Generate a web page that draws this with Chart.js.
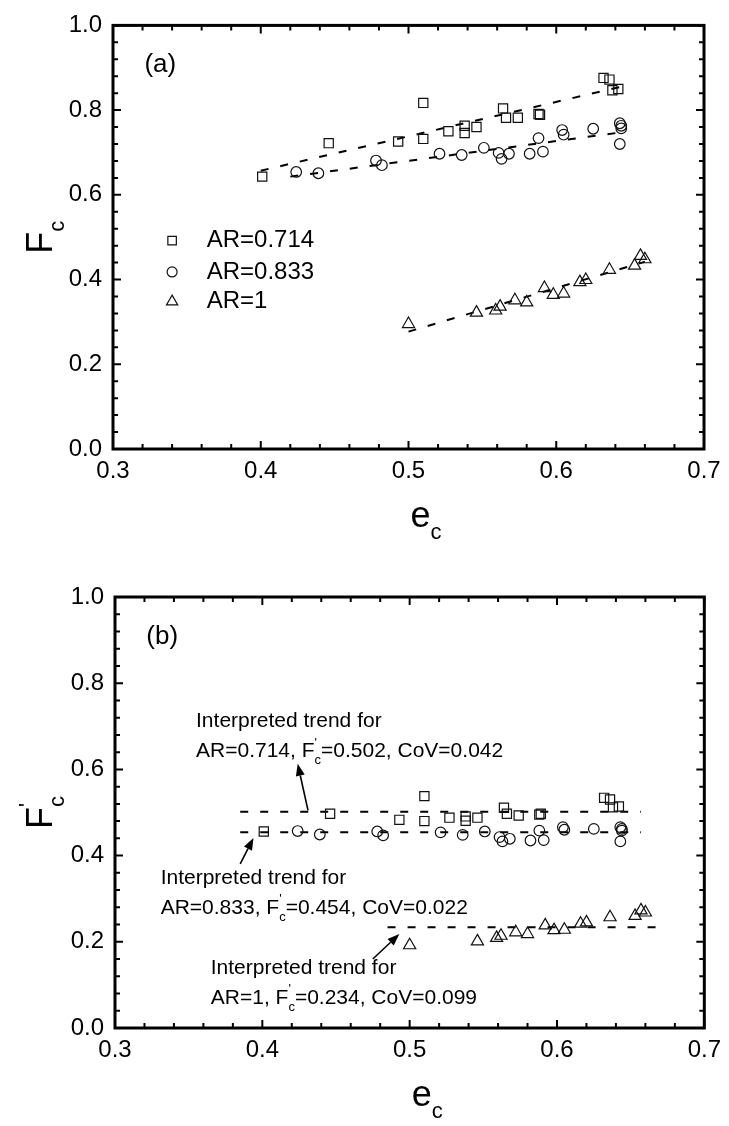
<!DOCTYPE html>
<html>
<head>
<meta charset="utf-8">
<script src="https://cdn.jsdelivr.net/npm/chart.js@4.4.1/dist/chart.umd.min.js"></script>
<style>
  html, body { margin: 0; padding: 0; background: #fff; }
  .panel { position: absolute; left: 0; width: 729px; height: 563px; }
</style>
</head>
<body>
<div class="panel" style="top:0"><canvas id="chartA" width="729" height="563"></canvas></div>
<div class="panel" style="top:563px"><canvas id="chartB" width="729" height="563"></canvas></div>
<script>
// ---- data ----
const eSquare = [0.401, 0.446, 0.493, 0.510, 0.510, 0.527, 0.538, 0.538, 0.546, 0.564, 0.566, 0.574, 0.588, 0.589, 0.632, 0.636, 0.638, 0.642];
const fcSquare = [0.643, 0.722, 0.726, 0.732, 0.817, 0.750, 0.746, 0.763, 0.760, 0.804, 0.782, 0.782, 0.791, 0.789, 0.876, 0.872, 0.847, 0.850];
const fcpSquare = [0.456, 0.497, 0.483, 0.480, 0.538, 0.488, 0.481, 0.491, 0.488, 0.511, 0.497, 0.493, 0.495, 0.497, 0.534, 0.530, 0.512, 0.514];

const eCircle = [0.424, 0.439, 0.478, 0.482, 0.521, 0.536, 0.551, 0.561, 0.563, 0.568, 0.582, 0.591, 0.588, 0.604, 0.605, 0.625, 0.643, 0.644, 0.644, 0.643];
const fcCircle = [0.654, 0.651, 0.681, 0.670, 0.697, 0.694, 0.711, 0.699, 0.685, 0.697, 0.697, 0.702, 0.734, 0.753, 0.742, 0.756, 0.769, 0.763, 0.757, 0.720];
const fcpCircle = [0.457, 0.449, 0.456, 0.447, 0.454, 0.448, 0.456, 0.443, 0.433, 0.439, 0.435, 0.436, 0.458, 0.466, 0.460, 0.462, 0.466, 0.462, 0.458, 0.433];

const eTriangle = [0.500, 0.546, 0.559, 0.562, 0.572, 0.580, 0.592, 0.598, 0.605, 0.616, 0.620, 0.636, 0.653, 0.657, 0.660];
const fcTriangle = [0.295, 0.322, 0.327, 0.336, 0.351, 0.346, 0.380, 0.364, 0.367, 0.394, 0.399, 0.423, 0.433, 0.456, 0.448];
const fcpTriangle = [0.192, 0.201, 0.209, 0.214, 0.222, 0.218, 0.238, 0.227, 0.228, 0.242, 0.245, 0.257, 0.260, 0.273, 0.268];

// fitted trend lines (end points)
const fitSquareA = [[0.400, 0.657], [0.645, 0.856]];
const fitCircleA = [[0.420, 0.643], [0.645, 0.748]];
const fitTriangleA = [[0.500, 0.277], [0.660, 0.442]];
const fitSquareB = [[0.385, 0.502], [0.657, 0.502]];
const fitCircleB = [[0.385, 0.454], [0.657, 0.454]];
const fitTriangleB = [[0.485, 0.234], [0.670, 0.234]];

const legendLabels = ["AR=0.714", "AR=0.833", "AR=1"];
const xTicks = [0.3, 0.4, 0.5, 0.6, 0.7];
const yTicks = [0.0, 0.2, 0.4, 0.6, 0.8, 1.0];

const FONT = '"Liberation Sans", Arial, Helvetica, sans-serif';
const INK = "#000";

function pts(xs, ys) { return xs.map((x, i) => ({ x, y: ys[i] })); }
function linePts(p) { return p.map(([x, y]) => ({ x, y })); }

function markerSet(data, style, r) {
  return {
    type: "scatter", data, pointStyle: style, pointRadius: r, pointHoverRadius: r,
    pointBorderColor: "#111", pointBackgroundColor: "transparent", pointBorderWidth: 1.2, order: 1,
  };
}
function fitSet(data) {
  return {
    type: "line", data, borderColor: INK, borderWidth: 2, borderDash: [8, 12],
    pointRadius: 0, fill: false, order: 2, tension: 0,
  };
}

// rich text: strings or {sup, sub} stacked scripts
function richWidth(ctx, parts, size) {
  let w = 0;
  parts.forEach(p => {
    if (typeof p === "string") { ctx.font = `${size}px ${FONT}`; w += ctx.measureText(p).width; }
    else {
      ctx.font = `${Math.round(size * 0.6)}px ${FONT}`;
      w += Math.max(p.sup ? ctx.measureText(p.sup).width : 0, p.sub ? ctx.measureText(p.sub).width : 0);
    }
  });
  return w;
}
function drawRich(ctx, parts, x, y, size) {
  let cx = x;
  ctx.textBaseline = "alphabetic";
  ctx.textAlign = "left";
  parts.forEach(p => {
    if (typeof p === "string") {
      ctx.font = `${size}px ${FONT}`;
      ctx.fillText(p, cx, y);
      cx += ctx.measureText(p).width;
    } else {
      ctx.font = `${Math.round(size * 0.6)}px ${FONT}`;
      let w = 0;
      if (p.sup) { ctx.fillText(p.sup, cx, y - size * 0.5); w = Math.max(w, ctx.measureText(p.sup).width); }
      if (p.sub) { ctx.fillText(p.sub, cx, y + size * 0.33); w = Math.max(w, ctx.measureText(p.sub).width); }
      cx += w;
    }
  });
}

function marker(ctx, style, x, y, r) {
  ctx.beginPath();
  if (style === "rect") {
    const s = Math.SQRT1_2 * r;
    ctx.rect(x - s, y - s, 2 * s, 2 * s);
  } else if (style === "circle") {
    ctx.arc(x, y, r, 0, Math.PI * 2);
  } else {
    ctx.moveTo(x, y - r);
    ctx.lineTo(x + r * Math.sin(2 * Math.PI / 3), y + r / 2);
    ctx.lineTo(x - r * Math.sin(2 * Math.PI / 3), y + r / 2);
    ctx.closePath();
  }
  ctx.stroke();
}

function arrow(ctx, x0, y0, x1, y1) {
  const ang = Math.atan2(y1 - y0, x1 - x0);
  const len = 12, half = 4.5;
  const bx = x1 - Math.cos(ang) * len, by = y1 - Math.sin(ang) * len;
  ctx.beginPath();
  ctx.moveTo(x0, y0); ctx.lineTo(bx, by);
  ctx.lineWidth = 1.6; ctx.stroke();
  ctx.beginPath();
  ctx.moveTo(x1, y1);
  ctx.lineTo(bx + Math.sin(ang) * half, by - Math.cos(ang) * half);
  ctx.lineTo(bx - Math.sin(ang) * half, by + Math.cos(ang) * half);
  ctx.closePath(); ctx.fill();
}

// frame, inward ticks, axis titles and annotations
const decorPlugin = {
  id: "decor",
  afterDraw(chart, args, opts) {
    const { ctx, chartArea: a, scales: { x, y } } = chart;
    ctx.save();
    ctx.strokeStyle = INK; ctx.fillStyle = INK;
    ctx.lineWidth = 2;
    ctx.beginPath();
    for (let i = 0; i <= 20; i++) {
      const px = x.getPixelForValue(0.3 + i * 0.02);
      const len = i % 5 === 0 ? 8 : 5;
      ctx.moveTo(px, a.bottom); ctx.lineTo(px, a.bottom - len);
      ctx.moveTo(px, a.top); ctx.lineTo(px, a.top + len);
    }
    for (let i = 0; i <= 25; i++) {
      const py = y.getPixelForValue(i * 0.04);
      const len = i % 5 === 0 ? 8 : 5;
      ctx.moveTo(a.left, py); ctx.lineTo(a.left + len, py);
      ctx.moveTo(a.right, py); ctx.lineTo(a.right - len, py);
    }
    ctx.stroke();
    ctx.lineWidth = 3;
    ctx.strokeRect(a.left, a.top, a.right - a.left, a.bottom - a.top);

    // panel tag
    ctx.font = `26px ${FONT}`;
    ctx.textAlign = "center"; ctx.textBaseline = "middle";
    ctx.fillText(opts.tag, x.getPixelForValue(0.332), y.getPixelForValue(0.907));

    // x title
    const cx = (a.left + a.right) / 2;
    drawRich(ctx, ["e", { sub: "c" }], cx + 2, a.bottom + 78, 36);
    // y title, rotated
    ctx.save();
    ctx.translate(opts.yTitleX, (a.top + a.bottom) / 2);
    ctx.rotate(-Math.PI / 2);
    const w = richWidth(ctx, opts.yTitle, 36);
    drawRich(ctx, opts.yTitle, -w / 2, 12, 36);
    ctx.restore();

    if (opts.legend) {
      ctx.lineWidth = 1.2; ctx.strokeStyle = "#111";
      opts.legend.forEach((it, i) => {
        const mx = x.getPixelForValue(0.340), my = y.getPixelForValue(it.at);
        marker(ctx, it.style, mx, my, it.r);
        ctx.font = `24px ${FONT}`;
        ctx.textAlign = "left"; ctx.textBaseline = "middle";
        ctx.fillText(legendLabels[i], x.getPixelForValue(0.3634), my);
      });
    }
    if (opts.notes) {
      opts.notes.forEach(n => {
        const tx = x.getPixelForValue(n.at[0]);
        drawRich(ctx, ["Interpreted trend for"], tx, y.getPixelForValue(n.at[1]), 21);
        drawRich(ctx, n.line2, tx, y.getPixelForValue(n.at[2]), 21);
        ctx.strokeStyle = INK; ctx.fillStyle = INK;
        arrow(ctx, x.getPixelForValue(n.tail[0]), y.getPixelForValue(n.tail[1]),
                   x.getPixelForValue(n.tip[0]), y.getPixelForValue(n.tip[1]));
      });
    }
    ctx.restore();
  }
};

function makeChart(id, datasets, box, decor) {
  return new Chart(document.getElementById(id), {
    data: { datasets },
    plugins: [decorPlugin],
    options: {
      responsive: false, animation: false, events: [],
      layout: { padding: { top: box.top, right: box.right, left: 0, bottom: 0 } },
      plugins: { legend: { display: false }, tooltip: { enabled: false }, decor },
      scales: {
        x: {
          type: "linear", min: 0.3, max: 0.7,
          afterBuildTicks: s => { s.ticks = xTicks.map(v => ({ value: v })); },
          afterFit: s => { s.height = box.xh; },
          grid: { display: false, drawTicks: false }, border: { display: false },
          ticks: { color: INK, padding: 8, font: { family: FONT, size: 24 }, callback: v => v.toFixed(1) },
        },
        y: {
          type: "linear", min: 0, max: 1,
          afterBuildTicks: s => { s.ticks = yTicks.map(v => ({ value: v })); },
          afterFit: s => { s.width = box.yw; },
          grid: { display: false, drawTicks: false }, border: { display: false },
          ticks: { color: INK, padding: 11, font: { family: FONT, size: 24 }, callback: v => v.toFixed(1) },
        },
      },
    },
  });
}

makeChart("chartA", [
  markerSet(pts(eSquare, fcSquare), "rect", 6.5),
  markerSet(pts(eCircle, fcCircle), "circle", 5.3),
  markerSet(pts(eTriangle, fcTriangle), "triangle", 7),
  fitSet(linePts(fitSquareA)), fitSet(linePts(fitCircleA)), fitSet(linePts(fitTriangleA)),
], { top: 19, right: 25, xh: 114, yw: 113 }, {
  tag: "(a)", yTitleX: 40, yTitle: ["F", { sub: "c" }],
  legend: [{ style: "rect", r: 6, at: 0.492 }, { style: "circle", r: 5, at: 0.418 }, { style: "triangle", r: 6.5, at: 0.348 }],
});

makeChart("chartB", [
  markerSet(pts(eSquare, fcpSquare), "rect", 6.5),
  markerSet(pts(eCircle, fcpCircle), "circle", 5.3),
  markerSet(pts(eTriangle, fcpTriangle), "triangle", 7),
  fitSet(linePts(fitSquareB)), fitSet(linePts(fitCircleB)), fitSet(linePts(fitTriangleB)),
], { top: 34, right: 21, xh: 98, yw: 115 }, {
  tag: "(b)", yTitleX: 40, yTitle: ["F", { sup: "'", sub: "c" }],
  notes: [
    { at: [0.355, 0.698, 0.628], line2: ["AR=0.714, F", { sup: "'", sub: "c" }, "=0.502, CoV=0.042"], tail: [0.431, 0.505], tip: [0.424, 0.613] },
    { at: [0.331, 0.335, 0.265], line2: ["AR=0.833, F", { sup: "'", sub: "c" }, "=0.454, CoV=0.022"], tail: [0.385, 0.381], tip: [0.394, 0.441] },
    { at: [0.365, 0.126, 0.056], line2: ["AR=1, F", { sup: "'", sub: "c" }, "=0.234, CoV=0.099"], tail: [0.475, 0.160], tip: [0.493, 0.218] },
  ],
});
</script>
</body>
</html>
